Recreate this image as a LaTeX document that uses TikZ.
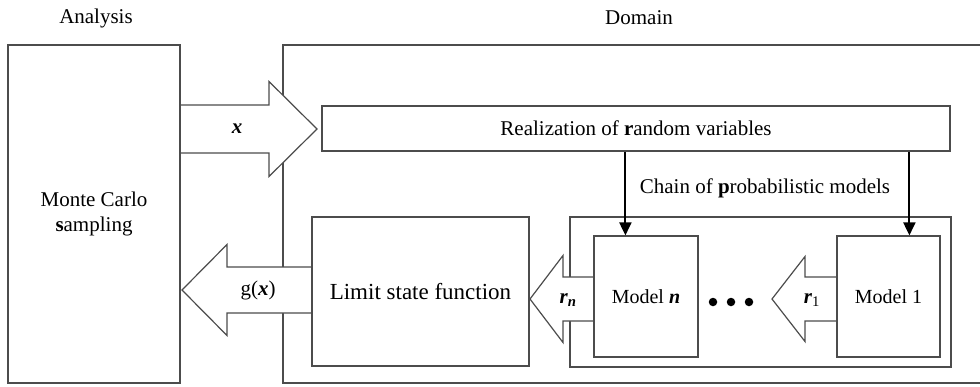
\documentclass[tikz,border=0pt]{standalone}
\usepackage{fontspec}
\setmainfont{Liberation Serif}
\usetikzlibrary{arrows.meta, calc, positioning}
\pgfdeclarelayer{back}
\pgfdeclarelayer{mid}
\pgfsetlayers{back,mid,main}

% block arrow: tail, tip, shaft half height, head half height, head length
\newcommand{\bigarrow}[5]{%
  \begin{pgfonlayer}{mid}
  \draw[big arrow] ($(#1)+(0,-#3)$) -- ($(#2)!#5!(#1)+(0,-#3)$) -- ($(#2)!#5!(#1)+(0,-#4)$)
    -- (#2) -- ($(#2)!#5!(#1)+(0,#4)$) -- ($(#2)!#5!(#1)+(0,#3)$) -- ($(#1)+(0,#3)$);
  \end{pgfonlayer}}

\begin{document}
\begin{tikzpicture}[x=1pt,y=-1pt,
  every node/.style={font=\fontsize{21}{25}\selectfont},
  box/.style={rectangle, draw=black!70, line width=1.2pt, align=center, inner sep=0pt},
  big arrow/.style={draw=black!70, line width=1.2pt, fill=white, line join=miter},
  feed/.style={-{Triangle[length=13pt,width=12pt]}, line width=2pt, black},
  dot/.style={circle, fill=black, inner sep=0pt, minimum size=8.5pt}]
  \useasboundingbox (0,0) rectangle (980,386);
  \clip (0,0) rectangle (980,386);

  \node (tana) at (96,18) {Analysis};
  \node (tdom) at (639,18) {Domain};

  \begin{pgfonlayer}{back}
  \node[box, minimum width=717pt, minimum height=338pt] (dom) at (641.5,214) {};
  \node[box, minimum width=381pt, minimum height=150pt] (chain) at (760.5,292) {};
  \end{pgfonlayer}
  \node (tchain) at (765,188) {Chain of \textbf{p}robabilistic models};

  \node[box, minimum width=172pt, minimum height=338pt] (ana) at (94,214) {Monte Carlo\\\textbf{s}ampling};
  \node[box, minimum width=628pt, minimum height=45pt] (real) at (636,128.5) {Realization of \textbf{r}andom variables};
  \node[box, minimum width=217pt, minimum height=149pt, font=\fontsize{23}{27}\selectfont] (lsf) at (420.5,291.5) {Limit state function};
  \node[box, minimum width=104pt, minimum height=121pt, font=\fontsize{20}{24}\selectfont] (modn) at (646,296.5) {Model \textbf{\textit{n}}};
  \node[box, minimum width=103pt, minimum height=121pt, font=\fontsize{20}{24}\selectfont] (mod1) at (888.5,296.5) {Model 1};

  \node[dot] (d1) at (713,302) {};
  \node[dot] (d2) at (731,302) {};
  \node[dot] (d3) at (749,302) {};

  \coordinate (xtip) at (317,129);
  \coordinate (gtip) at (182,290);
  \coordinate (rntip) at (530,299);
  \coordinate (r1tip) at (772,299);
  \bigarrow{ana.east |- xtip}{xtip}{24}{47.5}{48pt}
  \bigarrow{lsf.west |- gtip}{gtip}{23}{45.5}{45pt}
  \bigarrow{modn.west |- rntip}{rntip}{22}{43.5}{33pt}
  \bigarrow{mod1.west |- r1tip}{r1tip}{22}{42.5}{33pt}

  \node (lx) at (237,129) {\textbf{\textit{x}}};
  \node (lg) at (258,290) {g(\textbf{\textit{x}})};
  \node (lrn) at (568,300) {\textbf{\textit{r}}\textsubscript{\textbf{\textit{n}}}};
  \node (lr1) at (812,300) {\textbf{\textit{r}}\textsubscript{1}};

  \coordinate (inn) at ($(modn.north west)+(32,0)$);
  \coordinate (in1) at ($(mod1.north west)+(73,0)$);
  \draw[feed] (real.south -| inn) -- (inn);
  \draw[feed] (real.south -| in1) -- (in1);
\end{tikzpicture}
\end{document}
